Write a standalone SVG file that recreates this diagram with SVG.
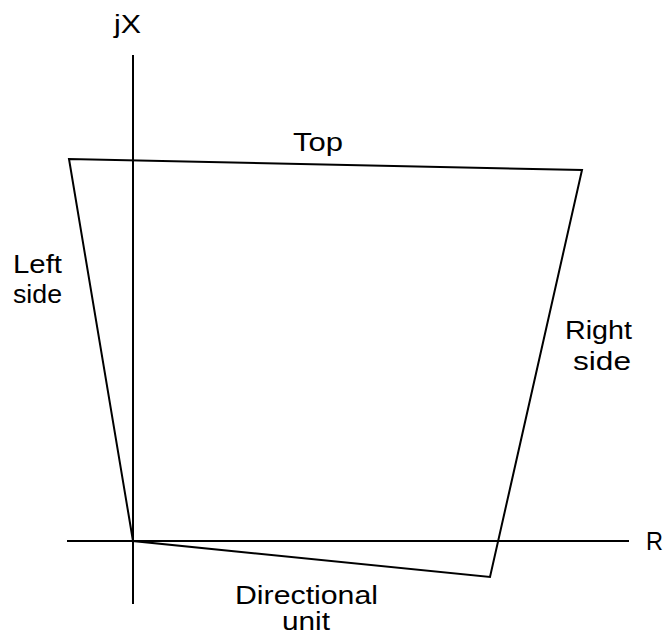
<svg xmlns="http://www.w3.org/2000/svg" width="665" height="635" viewBox="0 0 665 635">
<style>
.ln{stroke:#000;stroke-width:2;fill:none}
text{font-family:"Liberation Sans",Arial,sans-serif;font-size:25px;fill:#000}
</style>
<rect width="665" height="635" fill="#fff"/>
<g id="axes">
<line class="ln" x1="133" y1="55" x2="133" y2="604"/>
<line class="ln" x1="67" y1="541" x2="629" y2="541"/>
</g>
<g id="characteristic">
<polygon class="ln" points="133,541 69,159 582,170 490,577"/>
</g>
<g id="labels">
<text x="114" y="33" textLength="27" lengthAdjust="spacingAndGlyphs">jX</text>
<text x="646" y="550" textLength="17" lengthAdjust="spacingAndGlyphs">R</text>
<text x="293" y="151" textLength="50" lengthAdjust="spacingAndGlyphs">Top</text>
<text x="13" y="273" textLength="49" lengthAdjust="spacingAndGlyphs">Left</text>
<text x="13" y="303" textLength="49" lengthAdjust="spacingAndGlyphs">side</text>
<text x="565" y="339" textLength="67" lengthAdjust="spacingAndGlyphs">Right</text>
<text x="573" y="370" textLength="58" lengthAdjust="spacingAndGlyphs">side</text>
<text x="235" y="604" textLength="143" lengthAdjust="spacingAndGlyphs">Directional</text>
<text x="282" y="630" textLength="48" lengthAdjust="spacingAndGlyphs">unit</text>
</g>
</svg>
